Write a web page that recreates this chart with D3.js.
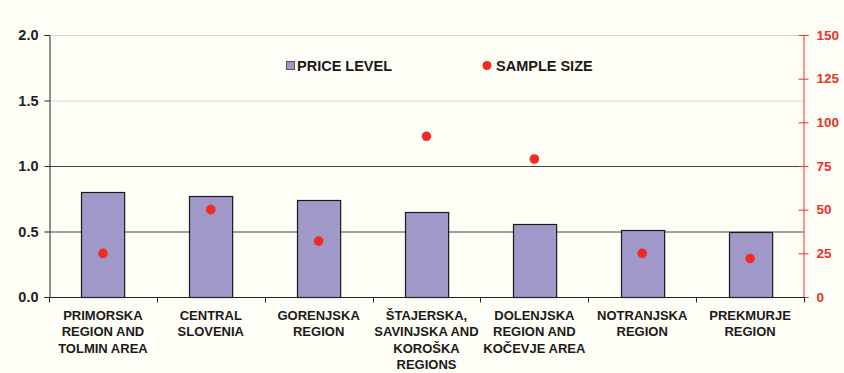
<!DOCTYPE html>
<html><head><meta charset="utf-8">
<script src="https://cdn.jsdelivr.net/npm/d3@7"></script>
<style>
html,body{margin:0;padding:0;background:#fffef6;}
svg{display:block;font-family:"Liberation Sans",Arial,sans-serif;}
</style></head><body>
<svg id="c" width="844" height="373"></svg>
<script>
const categories = [
  ["PRIMORSKA","REGION AND","TOLMIN AREA"],
  ["CENTRAL","SLOVENIA"],
  ["GORENJSKA","REGION"],
  ["ŠTAJERSKA,","SAVINJSKA AND","KOROŠKA","REGIONS"],
  ["DOLENJSKA","REGION AND","KOČEVJE AREA"],
  ["NOTRANJSKA","REGION"],
  ["PREKMURJE","REGION"]
];
const priceLevel = [0.80, 0.77, 0.74, 0.65, 0.56, 0.51, 0.50];
const sampleSize = [25, 50, 32, 92, 79, 25, 22];
const leftTicks = [0, 0.5, 1.0, 1.5, 2.0];
const rightTicks = [0, 25, 50, 75, 100, 125, 150];
const legendLabels = ["PRICE LEVEL", "SAMPLE SIZE"];

const svg = d3.select("#c");
const L = 49, R = 804, T = 35, B = 297;
const x = d3.scaleBand().domain(d3.range(categories.length)).range([L, R]).paddingInner(0.6).paddingOuter(0.3);
const xb = d3.scaleBand().domain(d3.range(categories.length)).range([L, R]);
const y = d3.scaleLinear().domain([0, 2]).range([B, T]);
const y2 = d3.scaleLinear().domain([0, 150]).range([B, T]);

// gridlines
svg.append("g").selectAll("line").data(leftTicks.filter(d => d > 0)).join("line")
  .attr("x1", L).attr("x2", R).attr("y1", d => y(d) + 0.5).attr("y2", d => y(d) + 0.5)
  .attr("stroke", d => d > 1 ? "#d4d4d0" : "#444").attr("stroke-width", 1);

// bars
svg.append("g").selectAll("rect").data(priceLevel).join("rect")
  .attr("x", (d, i) => Math.round(x(i)) + 0.5).attr("y", d => Math.round(y(d)) + 0.5)
  .attr("width", x.bandwidth()).attr("height", d => B - Math.round(y(d)))
  .attr("fill", "#9f98c8").attr("stroke", "#1a1a1a").attr("stroke-width", 1.2);

// dots
svg.append("g").selectAll("circle").data(sampleSize).join("circle")
  .attr("cx", (d, i) => x(i) + x.bandwidth() / 2).attr("cy", d => y2(d))
  .attr("r", 4.8).attr("fill", "#f22a20");

// left axis
const la = svg.append("g").attr("transform", `translate(${L + 0.5},0)`)
  .call(d3.axisLeft(y).tickValues(leftTicks).tickFormat(d3.format(".1f")).tickSize(5).tickPadding(6));
la.select(".domain").attr("stroke", "#222");
la.selectAll(".tick line").attr("stroke", "#222");
la.selectAll("text").attr("font-size", 14.5).attr("font-weight", "bold").attr("fill", "#222");

// right axis
const ra = svg.append("g").attr("transform", `translate(${R - 0.5},0)`)
  .call(d3.axisRight(y2).tickValues(rightTicks).tickSize(5).tickPadding(8));
ra.select(".domain").attr("stroke", "#e8322a");
ra.selectAll(".tick line").attr("stroke", "#e8322a").attr("x1", -5);
ra.selectAll("text").attr("font-size", 13.5).attr("fill", "#e8322a").attr("font-weight", "bold");

// bottom axis
const ba = svg.append("g").attr("transform", `translate(0,${B + 0.5})`);
ba.append("line").attr("x1", L).attr("x2", R).attr("stroke", "#222");
ba.selectAll("line.t").data(d3.range(categories.length + 1)).join("line").attr("class", "t")
  .attr("x1", i => Math.round(L + i * xb.step()) + 0.5).attr("x2", i => Math.round(L + i * xb.step()) + 0.5)
  .attr("y1", 0).attr("y2", 5).attr("stroke", "#222");

// category labels
const cl = svg.append("g");
categories.forEach((lines, i) => {
  const t = cl.append("text").attr("x", x(i) + x.bandwidth() / 2).attr("y", 320)
    .attr("text-anchor", "middle").attr("font-size", 13).attr("font-weight", "bold").attr("fill", "#1a1a1a");
  lines.forEach((s, j) => t.append("tspan").attr("x", x(i) + x.bandwidth() / 2).attr("dy", j ? 16.3 : 0).text(s));
});

// legend
const lg = svg.append("g").attr("font-size", 14.5).attr("font-weight", "bold").attr("fill", "#1a1a1a");
lg.append("rect").attr("x", 286.5).attr("y", 61.5).attr("width", 8).attr("height", 8)
  .attr("fill", "#9f98c8").attr("stroke", "#555");
lg.append("text").attr("x", 297).attr("y", 70.5).text(legendLabels[0]);
lg.append("circle").attr("cx", 487).attr("cy", 65.5).attr("r", 4.5).attr("fill", "#f22a20");
lg.append("text").attr("x", 496).attr("y", 70.5).text(legendLabels[1]);
</script>
</body></html>
